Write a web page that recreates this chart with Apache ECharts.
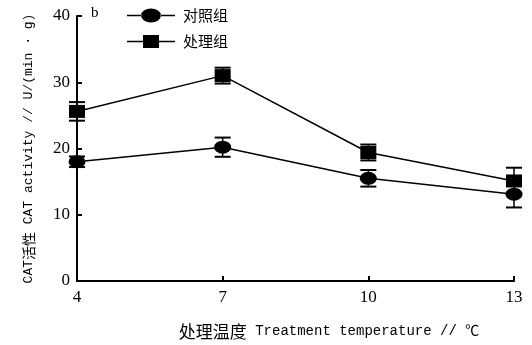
<!DOCTYPE html>
<html>
<head>
<meta charset="utf-8">
<script src="https://cdn.jsdelivr.net/npm/echarts@6/dist/echarts.min.js"></script>
<style>html,body{margin:0;padding:0;background:#fff}#c{width:532px;height:345px}</style>
</head>
<body>
<div id="c"></div>
<script>
// Data
const temps = ['4', '7', '10', '13'];
const controlName = '对照组';
const treatmentName = '处理组';
const controlValues = [18.0, 20.2, 15.5, 13.1];
const controlErrors = [0.8, 1.45, 1.25, 2.0];
const treatmentValues = [25.6, 31.0, 19.4, 15.1];
const treatmentErrors = [1.4, 1.2, 1.2, 2.0];
const yTicks = [0, 10, 20, 30, 40];

const chart = echarts.init(document.getElementById('c'), null, {renderer: 'canvas'});

const errData = (vals, errs) => vals.map((v, i) => [i, v, errs[i]]);

function renderErr(params, api) {
  const x = api.value(0), v = api.value(1), e = api.value(2);
  const top = api.coord([x, v + e]);
  const bot = api.coord([x, v - e]);
  const hw = 8;
  const st = {stroke: '#000', lineWidth: 2};
  return {
    type: 'group',
    children: [
      {type: 'line', shape: {x1: top[0], y1: top[1], x2: bot[0], y2: bot[1]}, style: {stroke: '#000', lineWidth: 1.5}},
      {type: 'line', shape: {x1: top[0] - hw, y1: top[1], x2: top[0] + hw, y2: top[1]}, style: st},
      {type: 'line', shape: {x1: bot[0] - hw, y1: bot[1], x2: bot[0] + hw, y2: bot[1]}, style: st}
    ]
  };
}

const circleIcon = 'path://M0,7.2H14.5V8.8H0Z M33.5,7.2H48V8.8H33.5Z M14,8A10,7 0 1,0 34,8A10,7 0 1,0 14,8Z';
const squareIcon = 'path://M0,7.2H16.5V8.8H0Z M31.5,7.2H48V8.8H31.5Z M16,1.5H32V14.5H16Z M0,1H0.01V15H0Z';

const option = {
  animation: false,
  backgroundColor: '#fff',
  grid: {left: 77, right: 18, top: 16, bottom: 64, containLabel: false},
  legend: {
    orient: 'vertical',
    left: 122,
    top: 3,
    itemWidth: 48,
    itemHeight: 14,
    itemGap: 11,
    textStyle: {fontFamily: 'Noto Sans CJK SC', fontSize: 15, color: '#000', padding: [0, 0, 0, 3]},
    data: [
      {name: controlName, icon: circleIcon},
      {name: treatmentName, icon: squareIcon}
    ]
  },
  graphic: [
    {type: 'text', left: 91, top: 6, style: {text: 'b', font: '15px "Liberation Serif"', fill: '#000'}}
  ],
  xAxis: {
    type: 'category',
    data: temps,
    boundaryGap: false,
    name: '{cn|处理温度}{en| Treatment temperature // ℃}',
    nameLocation: 'middle',
    nameGap: 42,
    nameTextStyle: {
      padding: [0, 0, 0, 67],
      rich: {
        cn: {fontFamily: 'Noto Sans CJK SC', fontSize: 17, color: '#000'},
        en: {fontFamily: '"Liberation Mono", "Noto Sans CJK SC"', fontSize: 14, color: '#000'}
      }
    },
    axisLine: {lineStyle: {color: '#000', width: 2}},
    axisTick: {inside: true, length: 5, alignWithLabel: true, lineStyle: {color: '#000', width: 2}},
    axisLabel: {color: '#000', fontFamily: '"Liberation Serif"', fontSize: 17, margin: 8},
    splitLine: {show: false}
  },
  yAxis: {
    type: 'value',
    min: yTicks[0],
    max: yTicks[yTicks.length - 1],
    interval: 10,
    name: '{en|CAT}{cn|活性}{en| CAT activity // U/(min · g)}',
    nameLocation: 'middle',
    nameGap: 33,
    nameTextStyle: {
      padding: [0, 0, 8, 0],
      rich: {
        cn: {fontFamily: 'Noto Sans CJK SC', fontSize: 14, color: '#000'},
        en: {fontFamily: '"Liberation Mono", "Noto Sans CJK SC"', fontSize: 13, color: '#000'}
      }
    },
    axisLine: {show: true, lineStyle: {color: '#000', width: 2}},
    axisTick: {show: true, inside: true, length: 5, lineStyle: {color: '#000', width: 2}},
    axisLabel: {color: '#000', fontFamily: '"Liberation Serif"', fontSize: 17, margin: 7},
    splitLine: {show: false}
  },
  series: [
    {
      name: controlName,
      type: 'line',
      data: controlValues,
      symbol: 'circle',
      symbolSize: [17, 13],
      showAllSymbol: true,
      lineStyle: {color: '#000', width: 1.5},
      itemStyle: {color: '#000'},
      z: 3
    },
    {
      name: treatmentName,
      type: 'line',
      data: treatmentValues,
      symbol: 'rect',
      symbolSize: [16, 13],
      showAllSymbol: true,
      lineStyle: {color: '#000', width: 1.5},
      itemStyle: {color: '#000'},
      z: 3
    },
    {
      name: controlName + ' error',
      type: 'custom',
      renderItem: renderErr,
      data: errData(controlValues, controlErrors),
      encode: {x: 0, y: 1},
      clip: false,
      z: 4
    },
    {
      name: treatmentName + ' error',
      type: 'custom',
      renderItem: renderErr,
      data: errData(treatmentValues, treatmentErrors),
      encode: {x: 0, y: 1},
      clip: false,
      z: 4
    }
  ]
};
chart.setOption(option);
</script>
</body>
</html>
